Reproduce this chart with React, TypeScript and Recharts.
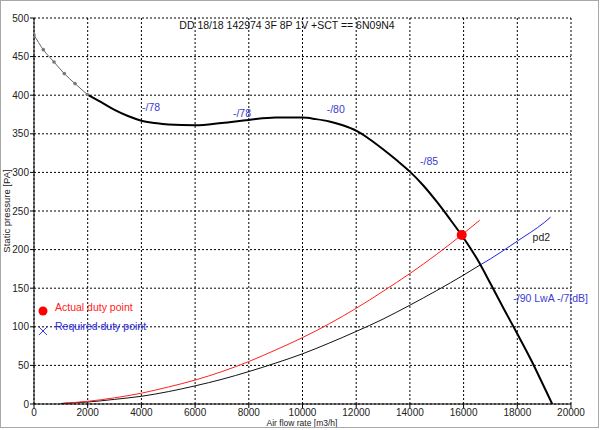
import React from 'react';
import {
  ComposedChart,
  Line,
  Scatter,
  XAxis,
  YAxis,
  CartesianGrid,
  ReferenceDot,
} from 'recharts';

const xTicks = [0, 2000, 4000, 6000, 8000, 10000, 12000, 14000, 16000, 18000, 20000];
const yTicks = [0, 50, 100, 150, 200, 250, 300, 350, 400, 450, 500];

const fanCurveLowFlow = [
  { x: 0, y: 478 },
  { x: 346, y: 459 },
  { x: 745, y: 443 },
  { x: 1128, y: 428 },
  { x: 1527, y: 415 },
  { x: 1985, y: 401 },
];

const fanCurve = [
  { x: 1985, y: 401 },
  { x: 2500, y: 391 },
  { x: 3000, y: 381 },
  { x: 3500, y: 373 },
  { x: 4000, y: 367 },
  { x: 4500, y: 364 },
  { x: 5000, y: 362 },
  { x: 6000, y: 361 },
  { x: 7000, y: 364 },
  { x: 8000, y: 368 },
  { x: 9000, y: 371 },
  { x: 10000, y: 371 },
  { x: 10500, y: 369 },
  { x: 11000, y: 366 },
  { x: 11500, y: 361 },
  { x: 12000, y: 354 },
  { x: 12500, y: 343 },
  { x: 13000, y: 330 },
  { x: 13500, y: 316 },
  { x: 14000, y: 301 },
  { x: 14500, y: 283 },
  { x: 15000, y: 262 },
  { x: 15500, y: 239 },
  { x: 16000, y: 215 },
  { x: 16500, y: 188 },
  { x: 17000, y: 156 },
  { x: 17500, y: 123 },
  { x: 18000, y: 91 },
  { x: 18500, y: 58 },
  { x: 19000, y: 22 },
  { x: 19300, y: 0 },
];

const actualSystem = [
  { x: 1100, y: 1 },
  { x: 2000, y: 3.5 },
  { x: 3000, y: 8 },
  { x: 4000, y: 14 },
  { x: 5000, y: 22 },
  { x: 6000, y: 31 },
  { x: 7000, y: 42 },
  { x: 8000, y: 55 },
  { x: 9000, y: 70 },
  { x: 10000, y: 86 },
  { x: 11000, y: 104 },
  { x: 12000, y: 124 },
  { x: 13000, y: 146 },
  { x: 14000, y: 169 },
  { x: 15000, y: 194 },
  { x: 16000, y: 221 },
  { x: 16600, y: 238 },
];

const requiredSystem = [
  { x: 1000, y: 0.7 },
  { x: 2000, y: 2.6 },
  { x: 3000, y: 6 },
  { x: 4000, y: 10 },
  { x: 5000, y: 16 },
  { x: 6000, y: 23.5 },
  { x: 7000, y: 32 },
  { x: 8000, y: 42 },
  { x: 9000, y: 53 },
  { x: 10000, y: 65 },
  { x: 11000, y: 79 },
  { x: 12000, y: 94 },
  { x: 13000, y: 110 },
  { x: 14000, y: 128 },
  { x: 15000, y: 147 },
  { x: 16000, y: 167 },
  { x: 16610, y: 180 },
];

const requiredSystemExt = [
  { x: 16610, y: 180 },
  { x: 17000, y: 188 },
  { x: 18000, y: 211 },
  { x: 19000, y: 235 },
  { x: 19240, y: 242 },
];

const dutyPoint = [{ x: 15930, y: 219 }];

const annotations = [
  { x: 4022, y: 385, text: '-/78', color: '#3b3bd0' },
  { x: 7410, y: 377, text: '-/78', color: '#3b3bd0' },
  { x: 10900, y: 382, text: '-/80', color: '#3b3bd0' },
  { x: 14375, y: 315, text: '-/85', color: '#3b3bd0' },
  { x: 18570, y: 216, text: 'pd2', color: '#222222' },
  { x: 17850, y: 137, text: '-/90 LwA -/7[dB]', color: '#3b3bd0' },
];

const titleText = 'DD 18/18 142974 3F 8P 1V +SCT == 6N09N4';
const xLabel = 'Air flow rate [m3/h]';
const yLabel = 'Static pressure [PA]';

const FONT = '"Liberation Sans", Arial, sans-serif';

export default function App() {
  return (
    <div
      style={{
        position: 'absolute',
        left: 0,
        top: 0,
        width: 600,
        height: 430,
        background: '#fff',
        fontFamily: FONT,
      }}
    >
      <ComposedChart
        width={600}
        height={430}
        margin={{ top: 18, right: 29, left: 0, bottom: 0 }}
      >
        <CartesianGrid
          stroke="#000"
          strokeDasharray="2 2"
          horizontalValues={yTicks}
          verticalValues={xTicks}
        />
        <XAxis
          type="number"
          dataKey="x"
          domain={[0, 20000]}
          ticks={xTicks}
          height={26}
          allowDataOverflow
          tickSize={4}
          tickMargin={1}
          stroke="#000"
          tick={{ fill: '#222', fontSize: 10, fontFamily: FONT }}
          interval={0}
        />
        <YAxis
          type="number"
          dataKey="y"
          domain={[0, 500]}
          ticks={yTicks}
          width={34}
          allowDataOverflow
          tickSize={4}
          tickMargin={1}
          stroke="#000"
          tick={{ fill: '#222', fontSize: 10, fontFamily: FONT }}
          interval={0}
        />
        <Line
          data={fanCurveLowFlow}
          dataKey="y"
          type="monotone"
          stroke="#666"
          strokeWidth={1}
          dot={{ r: 1.8, fill: '#777', stroke: '#777', strokeWidth: 0 }}
          isAnimationActive={false}
        />
        <Line
          data={requiredSystem}
          dataKey="y"
          type="monotone"
          stroke="#111"
          strokeWidth={1}
          dot={false}
          isAnimationActive={false}
        />
        <Line
          data={requiredSystemExt}
          dataKey="y"
          type="monotone"
          stroke="#2222ee"
          strokeWidth={1}
          dot={false}
          isAnimationActive={false}
        />
        <Line
          data={actualSystem}
          dataKey="y"
          type="monotone"
          stroke="#ff2020"
          strokeWidth={1}
          dot={false}
          isAnimationActive={false}
        />
        <Line
          data={fanCurve}
          dataKey="y"
          type="monotone"
          stroke="#000"
          strokeWidth={2}
          dot={false}
          isAnimationActive={false}
        />
        <Scatter
          data={dutyPoint}
          dataKey="y"
          isAnimationActive={false}
          shape={(p: any) => <circle cx={p.cx} cy={p.cy} r={5} fill="#ff0000" />}
        />
        {annotations.map((a, i) => (
          <ReferenceDot
            key={i}
            x={a.x}
            y={a.y}
            r={0}
            ifOverflow="visible"
            shape={(p: any) => (
              <text
                x={p.cx}
                y={p.cy}
                fill={a.color}
                fontSize={10.5}
                fontFamily={FONT}
                dominantBaseline="central"
              >
                {a.text}
              </text>
            )}
          />
        ))}
      </ComposedChart>

      {/* title */}
      <div
        style={{
          position: 'absolute',
          left: 0,
          width: 574,
          top: 18,
          textAlign: 'center',
          fontSize: 10.5,
          color: '#111',
          lineHeight: '14px',
          whiteSpace: 'nowrap',
        }}
      >
        {titleText}
      </div>

      {/* x axis label */}
      <div
        style={{
          position: 'absolute',
          left: 202,
          width: 200,
          top: 417,
          textAlign: 'center',
          fontSize: 8.5,
          color: '#222',
          lineHeight: '12px',
          whiteSpace: 'nowrap',
        }}
      >
        {xLabel}
      </div>

      {/* y axis label */}
      <div
        style={{
          position: 'absolute',
          left: 7 - 60,
          width: 120,
          top: 211 - 6,
          textAlign: 'center',
          fontSize: 9.5,
          color: '#222',
          lineHeight: '12px',
          whiteSpace: 'nowrap',
          transform: 'rotate(-90deg)',
          transformOrigin: '60px 6px',
        }}
      >
        {yLabel}
      </div>

      {/* legend */}
      <svg
        style={{ position: 'absolute', left: 0, top: 0, pointerEvents: 'none' }}
        width={600}
        height={430}
      >
        <circle cx={43} cy={311} r={4.5} fill="#ff0000" />
        <text x={55} y={307} fill="#ff2020" fontSize={10.5} fontFamily={FONT} dominantBaseline="central">
          Actual duty point
        </text>
        <line x1={39} y1={327} x2={47} y2={335} stroke="#3a3ae0" strokeWidth={1} />
        <line x1={47} y1={327} x2={39} y2={335} stroke="#3a3ae0" strokeWidth={1} />
        <text x={55} y={326} fill="#2828e0" fontSize={10.5} fontFamily={FONT} dominantBaseline="central">
          Required duty point
        </text>
      </svg>

      {/* outer frame */}
      <div
        style={{
          position: 'absolute',
          left: 0,
          top: 0,
          width: 599,
          height: 428,
          boxSizing: 'border-box',
          border: '1px solid #a8a8a8',
          pointerEvents: 'none',
        }}
      />
    </div>
  );
}
